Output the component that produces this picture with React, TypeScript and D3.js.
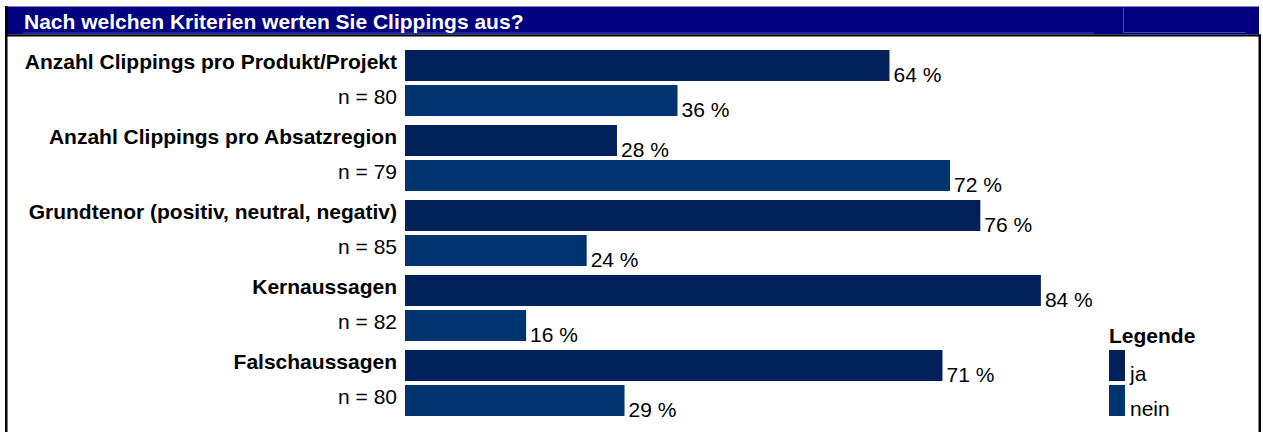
import * as d3 from 'd3';
import { useRef, useEffect } from 'react';

const title = 'Nach welchen Kriterien werten Sie Clippings aus?';
const categories = [
    'Anzahl Clippings pro Produkt/Projekt',
    'Anzahl Clippings pro Absatzregion',
    'Grundtenor (positiv, neutral, negativ)',
    'Kernaussagen',
    'Falschaussagen',
];
const sampleSizes = [80, 79, 85, 82, 80];
const jaValues = [64, 28, 76, 84, 71];
const neinValues = [36, 72, 24, 16, 29];
const seriesNames = ['ja', 'nein'];
const legendTitle = 'Legende';

const colors: Record<string, string> = { ja: '#02215a', nein: '#003471' };
const font = "'Liberation Sans', Arial, sans-serif";

const W = 1263, H = 432;

const App = () => {
    const ref = useRef<SVGSVGElement>(null);

    useEffect(() => {
        if (!ref.current) return;
        const svg = d3.select(ref.current);
        svg.selectAll('*').remove();

        // frame + header
        svg.append('rect').attr('x', 7).attr('y', 6.5).attr('width', 1252).attr('height', 28).attr('fill', '#000080');
        svg.append('rect').attr('x', 5).attr('y', 34.5).attr('width', 256 + 1000).attr('height', 2).attr('fill', '#000');
        svg.append('rect').attr('x', 5).attr('y', 6).attr('width', 2.5).attr('height', H - 6).attr('fill', '#000');
        svg.append('rect').attr('x', 1258.5).attr('y', 34.5).attr('width', 2.5).attr('height', H - 34).attr('fill', '#000');
        // faint inner lines of the header
        svg.append('line').attr('x1', 23).attr('x2', 1094).attr('y1', 33).attr('y2', 33)
            .attr('stroke', '#3d4bb0').attr('stroke-width', 1);
        svg.append('path').attr('d', 'M1123.5,7.5V32.5H1246')
            .attr('fill', 'none').attr('stroke', '#3d4bb0').attr('stroke-width', 1);

        svg.append('text')
            .attr('x', 24).attr('y', 28.5)
            .attr('fill', '#fff').attr('font-family', font).attr('font-weight', 'bold').attr('font-size', 21)
            .text(title);

        const rows = categories.map((c, i) => ({ cat: c, n: sampleSizes[i], ja: jaValues[i], nein: neinValues[i] }));

        const y0 = d3.scaleBand<string>().domain(categories).range([50, 425]).padding(0);
        const y1 = d3.scaleBand<string>().domain(seriesNames).range([0, 66]).paddingInner(0.114);
        const x = d3.scaleLinear().domain([0, 100]).range([405, 1162]);

        const g = svg.append('g')
            .selectAll('g')
            .data(rows)
            .enter().append('g')
            .attr('transform', d => 'translate(0,' + y0(d.cat) + ')');

        g.append('text')
            .attr('x', 397).attr('y', 19)
            .attr('text-anchor', 'end')
            .attr('font-family', font).attr('font-weight', 'bold').attr('font-size', 21)
            .attr('fill', '#000')
            .text(d => d.cat);

        g.append('text')
            .attr('x', 397).attr('y', 54)
            .attr('text-anchor', 'end')
            .attr('font-family', font).attr('font-size', 21)
            .attr('fill', '#000')
            .text(d => 'n = ' + d.n);

        seriesNames.forEach(s => {
            g.append('rect')
                .attr('x', x(0))
                .attr('y', y1(s)!)
                .attr('width', d => x((d as any)[s]) - x(0))
                .attr('height', y1.bandwidth())
                .attr('fill', colors[s]);

            g.append('text')
                .attr('x', d => x((d as any)[s]) + 4)
                .attr('y', y1(s)! + y1.bandwidth() + 0.5)
                .attr('font-family', font).attr('font-size', 21)
                .attr('fill', '#000')
                .text(d => (d as any)[s] + ' %');
        });

        // legend
        const last = categories[categories.length - 1];
        const legend = svg.append('g').attr('transform', 'translate(1109,' + y0(last) + ')');
        legend.append('text')
            .attr('x', 0).attr('y', -7)
            .attr('font-family', font).attr('font-weight', 'bold').attr('font-size', 21)
            .text(legendTitle);
        seriesNames.forEach(s => {
            legend.append('rect')
                .attr('x', 0).attr('y', y1(s)!)
                .attr('width', 16).attr('height', y1.bandwidth())
                .attr('fill', colors[s]);
            legend.append('text')
                .attr('x', 21).attr('y', y1(s)! + y1.bandwidth())
                .attr('font-family', font).attr('font-size', 21)
                .text(s);
        });
    }, []);

    return (
        <div style={{ position: 'absolute', left: 0, top: 0 }}>
            <svg ref={ref} width={W} height={H} style={{ display: 'block', background: '#fff' }}></svg>
        </div>
    );
};

export default App;
